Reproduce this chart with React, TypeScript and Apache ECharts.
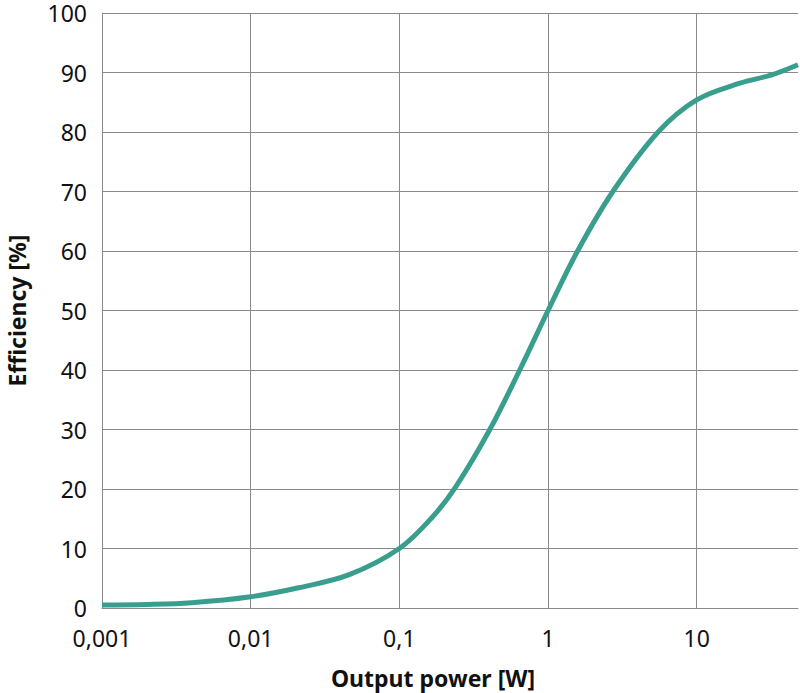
import React, { useEffect, useRef } from "react";
import * as echarts from "echarts";

const outputPower = [0.001, 0.002, 0.004, 0.01, 0.021, 0.046, 0.1, 0.167, 0.24, 0.406, 0.645, 1, 1.58, 2.73, 5.5, 10, 19.5, 32, 48];
const efficiency = [0.5, 0.6, 0.9, 1.9, 3.4, 5.6, 10, 15.3, 20.4, 30, 40, 50, 60, 70, 80, 85.4, 88.2, 89.6, 91.3];
const yTicks = [0, 10, 20, 30, 40, 50, 60, 70, 80, 90, 100];
const xTickLabels: Record<string, string> = { "0.001": "0,001", "0.01": "0,01", "0.1": "0,1", "1": "1", "10": "10" };

const FONT = "'Noto Sans', sans-serif";
const GRID = "#8a8a8a";

export default function App() {
  const ref = useRef<HTMLDivElement>(null);
  useEffect(() => {
    const chart = echarts.init(ref.current!, null, { renderer: "svg" });
    chart.setOption({
      animation: false,
      grid: { left: 102, right: 2, top: 13, bottom: 85, containLabel: false, outerBoundsMode: "none" },
      xAxis: {
        type: "log",
        logBase: 10,
        min: 0.001,
        max: 48,
        name: "Output power [W]",
        nameLocation: "middle",
        nameGap: 59,
        nameTextStyle: { fontFamily: FONT, fontSize: 23, lineHeight: 22, fontWeight: "bold", color: "#111", padding: [0, 34, 0, 0] },
        axisLine: { show: true, lineStyle: { color: GRID, width: 1 } },
        axisTick: { show: false },
        axisLabel: {
          fontFamily: FONT,
          fontSize: 23,
          color: "#111",
          margin: 18,
          showMaxLabel: false,
          formatter: (v: number) => {
            const k = String(Number(v.toPrecision(6)));
            return xTickLabels[k] ?? "";
          },
        },
        splitLine: { show: true, showMaxLine: false, lineStyle: { color: GRID, width: 1 } },
      },
      yAxis: {
        type: "value",
        min: yTicks[0],
        max: yTicks[yTicks.length - 1],
        interval: 10,
        name: "Efficiency [%]",
        nameLocation: "middle",
        nameGap: 73,
        nameRotate: 90,
        nameTextStyle: { fontFamily: FONT, fontSize: 23, lineHeight: 24, fontWeight: "bold", color: "#111" },
        axisLine: { show: true, lineStyle: { color: GRID, width: 1 } },
        axisTick: { show: false },
        axisLabel: { fontFamily: FONT, fontSize: 23, lineHeight: 16, color: "#111", margin: 15 },
        splitLine: { show: true, lineStyle: { color: GRID, width: 1 } },
      },
      series: [
        {
          type: "line",
          data: outputPower.map((p, i) => [p, efficiency[i]]),
          smooth: 0.35,
          showSymbol: false,
          symbol: "none",
          lineStyle: { color: "#3a9e8e", width: 5 },
        },
      ],
    });
    return () => chart.dispose();
  }, []);
  return <div ref={ref} style={{ width: 800, height: 693, position: "absolute", left: 0, top: 0 }} />;
}
